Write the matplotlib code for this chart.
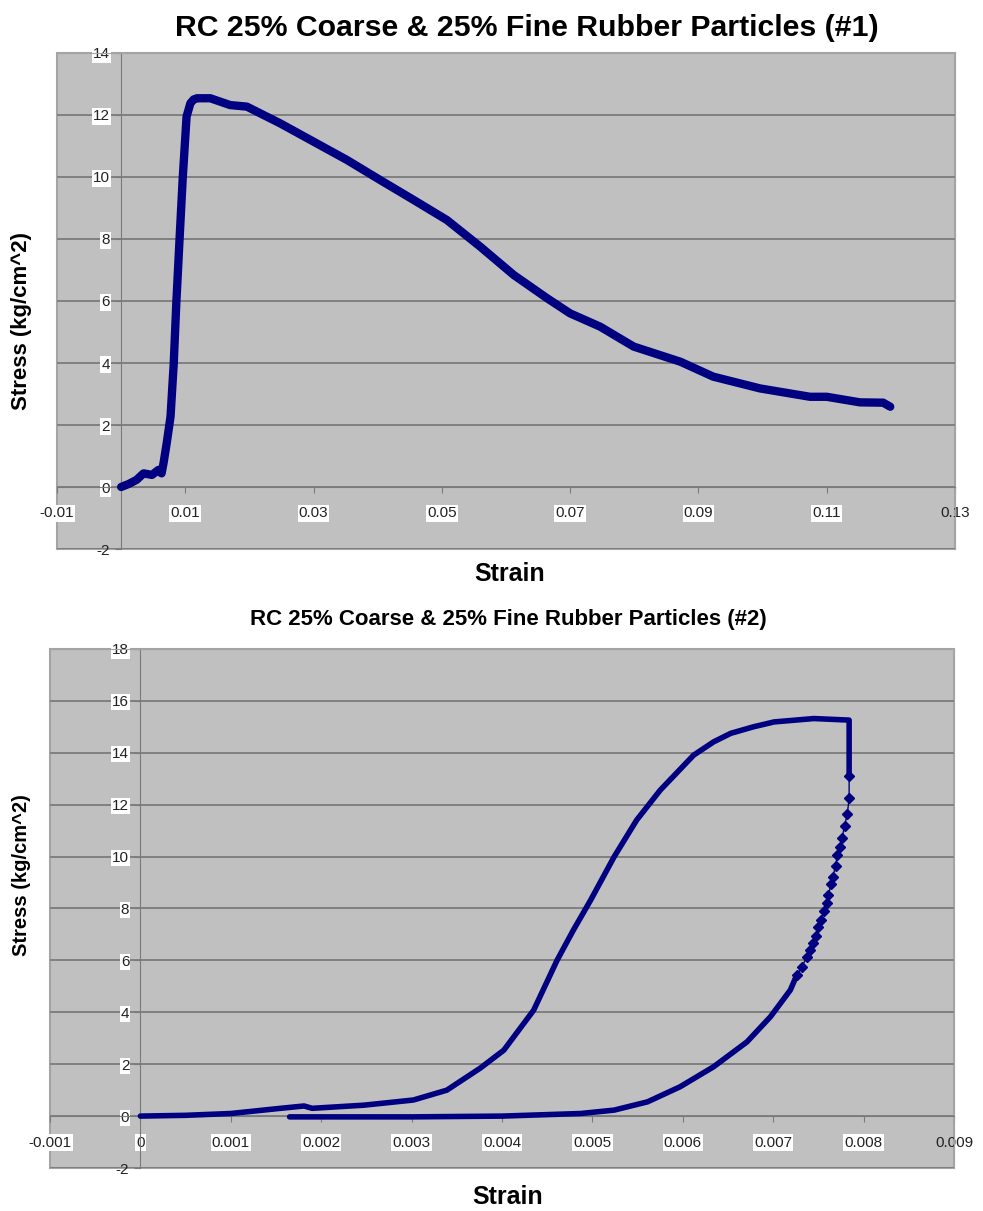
import matplotlib
matplotlib.use("Agg")
import matplotlib.pyplot as plt

# ---- data ----
# specimen #1
strain1 = [0, 0.0012, 0.0024, 0.0035, 0.0048, 0.0058, 0.0063, 0.0066, 0.0071, 0.0077,
           0.0082, 0.0086, 0.0091, 0.0096, 0.0102, 0.0108, 0.0113, 0.0118, 0.0139, 0.0170, 0.0196,
           0.0248, 0.0300, 0.0352, 0.0404, 0.0456, 0.0508, 0.0560, 0.0612, 0.0664, 0.0700,
           0.0747, 0.0799, 0.0872, 0.0923, 0.0996, 0.1074, 0.1100, 0.1152, 0.1188, 0.1199]
stress1 = [0, 0.10, 0.23, 0.44, 0.39, 0.55, 0.44, 0.76, 1.41, 2.27,
           3.99, 5.93, 7.97, 9.96, 11.95, 12.38, 12.50, 12.54, 12.54, 12.32, 12.27,
           11.73, 11.14, 10.55, 9.90, 9.26, 8.61, 7.75, 6.84, 6.09, 5.60,
           5.17, 4.53, 4.04, 3.56, 3.18, 2.91, 2.91, 2.73, 2.72, 2.59]

# specimen #2 - loading branch
strain2_load = [0, 0.0005, 0.0010, 0.00155, 0.00181, 0.00190, 0.00247, 0.00302, 0.00339,
                0.00376, 0.00402, 0.00435, 0.00461, 0.00479, 0.00498, 0.00524, 0.00549,
                0.00575, 0.00612, 0.00634, 0.00653, 0.00678, 0.00701, 0.00745, 0.00784, 0.00784]
stress2_load = [0, 0.03, 0.10, 0.30, 0.39, 0.30, 0.42, 0.62, 1.00,
                1.85, 2.54, 4.08, 6.01, 7.17, 8.32, 9.99, 11.41,
                12.56, 13.91, 14.42, 14.75, 15.00, 15.19, 15.32, 15.26, 13.10]
# specimen #2 - sparse points right after the drop
strain2_drop = [0.00784, 0.00784, 0.00782, 0.00779, 0.00776, 0.00774, 0.00771, 0.00769, 0.00766,
                0.00764, 0.00761, 0.00759, 0.00756, 0.00753, 0.00750, 0.00747, 0.00744,
                0.00741, 0.00737, 0.00732, 0.00726]
stress2_drop = [13.10, 12.24, 11.66, 11.19, 10.70, 10.38, 10.06, 9.65, 9.22,
                8.94, 8.52, 8.20, 7.91, 7.55, 7.27, 6.94, 6.66,
                6.42, 6.14, 5.75, 5.43]
# specimen #2 - unloading branch
strain2_unload = [0.00726, 0.00719, 0.00697, 0.00671, 0.00634, 0.00597, 0.00561, 0.00524,
                  0.00487, 0.0040, 0.0030, 0.0020, 0.00165]
stress2_unload = [5.43, 4.86, 3.83, 2.86, 1.90, 1.13, 0.55, 0.23,
                  0.10, 0.0, -0.03, -0.03, -0.03]

xticks1 = [-0.01, 0.01, 0.03, 0.05, 0.07, 0.09, 0.11, 0.13]
xlabels1 = ["-0.01", "0.01", "0.03", "0.05", "0.07", "0.09", "0.11", "0.13"]
yticks1 = [-2, 0, 2, 4, 6, 8, 10, 12, 14]
xticks2 = [-0.001, 0, 0.001, 0.002, 0.003, 0.004, 0.005, 0.006, 0.007, 0.008, 0.009]
xlabels2 = ["-0.001", "0", "0.001", "0.002", "0.003", "0.004", "0.005", "0.006",
            "0.007", "0.008", "0.009"]
yticks2 = [-2, 0, 2, 4, 6, 8, 10, 12, 14, 16, 18]

plt.rcParams['font.family'] = ['Liberation Sans', 'DejaVu Sans']
navy = '#000080'
W, H = 983, 1211

fig = plt.figure(figsize=(W / 100, H / 100), dpi=100)


def style_axes(ax, xt, xl, yt):
    ax.set_facecolor('#c0c0c0')
    ax.patch.set_edgecolor('#a4a4a4')
    ax.patch.set_linewidth(1.5)
    for s in ['top', 'right']:
        ax.spines[s].set_color('#a4a4a4')
    ax.spines['left'].set_position(('data', 0))
    ax.spines['bottom'].set_position(('data', 0))
    ax.spines['left'].set_color('#7a7a7a')
    ax.spines['bottom'].set_color('#7a7a7a')
    ax.set_xticks(xt, xl)
    ax.set_yticks(yt, [str(v) for v in yt])
    ax.yaxis.grid(True, color='#808080', linewidth=1.4)
    ax.set_axisbelow(True)
    ax.tick_params(axis='both', colors='#7a7a7a', labelcolor='#222222',
                   labelsize=11, length=4, direction='out')
    ax.tick_params(axis='x', pad=10)
    ax.tick_params(axis='y', pad=4)
    box = dict(facecolor='white', edgecolor='none', pad=0.8)
    for t in ax.get_xticklabels()[:-1]:
        t.set_bbox(box)
    for t in ax.get_yticklabels()[1:]:
        t.set_bbox(box)


# ---- top chart ----
ax1 = fig.add_axes([57 / W, 1 - 549 / H, (955 - 57) / W, (549 - 53) / H])
ax1.plot(strain1, stress1, color=navy, linewidth=6, solid_joinstyle='round',
         solid_capstyle='round', zorder=3)
ax1.set_xlim(-0.01, 0.13)
ax1.set_ylim(-2, 14)
style_axes(ax1, xticks1, xlabels1, yticks1)

fig.text(527 / W, 1 - 28 / H, "RC 25% Coarse & 25% Fine Rubber Particles (#1)",
         ha='center', va='center', fontsize=21.8, fontweight='bold')
fig.text(22 / W, 1 - 321 / H, "Stress (kg/cm^2)", rotation=90, ha='center',
         va='center', fontsize=16, fontweight='bold')
fig.text(510 / W, 1 - 574 / H, "Strain", ha='center', va='center',
         fontsize=18, fontweight='bold')

# ---- bottom chart ----
ax2 = fig.add_axes([50 / W, 1 - 1168 / H, (954 - 50) / W, (1168 - 649) / H])
ax2.plot(strain2_load, stress2_load, color=navy, linewidth=4, solid_joinstyle='round',
         solid_capstyle='round', zorder=3)
ax2.plot(strain2_drop, stress2_drop, color=navy, linewidth=1, marker='D',
         markersize=5.5, zorder=3)
ax2.plot(strain2_unload, stress2_unload, color=navy, linewidth=4, solid_joinstyle='round',
         solid_capstyle='round', zorder=3)
ax2.set_xlim(-0.001, 0.009)
ax2.set_ylim(-2, 18)
style_axes(ax2, xticks2, xlabels2, yticks2)

fig.text(508 / W, 1 - 620 / H, "RC 25% Coarse & 25% Fine Rubber Particles (#2)",
         ha='center', va='center', fontsize=16, fontweight='bold')
fig.text(22 / W, 1 - 875 / H, "Stress (kg/cm^2)", rotation=90, ha='center',
         va='center', fontsize=14.5, fontweight='bold')
fig.text(508 / W, 1 - 1197 / H, "Strain", ha='center', va='center',
         fontsize=18, fontweight='bold')

fig.savefig("out.png", dpi=100)
